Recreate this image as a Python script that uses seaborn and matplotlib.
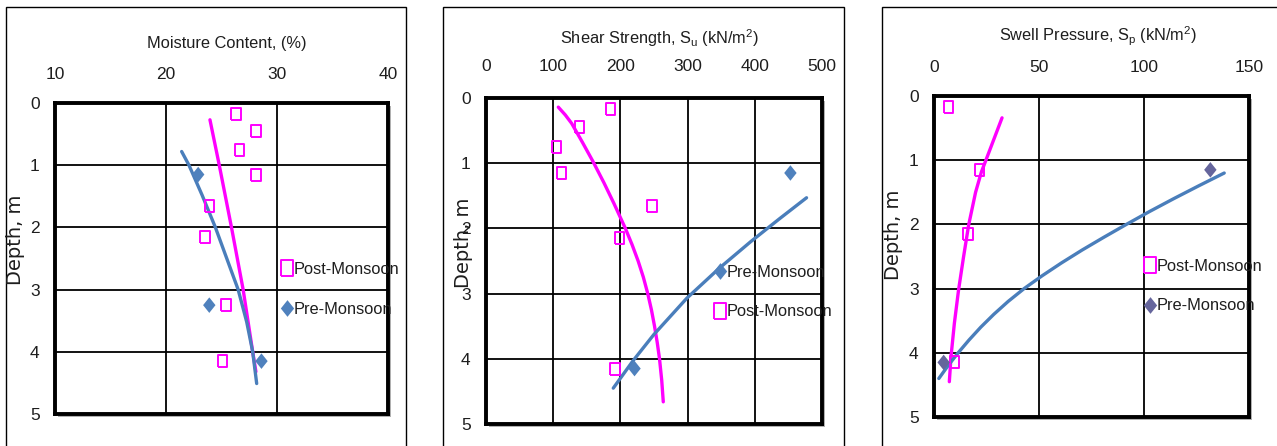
import matplotlib
matplotlib.use("Agg")
import matplotlib.pyplot as plt
from matplotlib.patches import Rectangle
from matplotlib.lines import Line2D
import seaborn as sns

# ---------------- data ----------------
# Moisture content (%) vs depth (m)
mc_post_depth = [0.17, 0.45, 0.75, 1.15, 1.65, 2.15, 3.25, 4.15]
mc_post = [26.3, 28.1, 26.6, 28.1, 23.9, 23.5, 25.4, 25.1]
mc_pre_depth = [1.15, 3.25, 4.15]
mc_pre = [22.9, 23.9, 28.6]
# trend lines (value, depth)
mc_post_trend = [23.96, 24.8, 25.9, 26.95, 27.81, 28.1]
mc_post_trend_depth = [0.27, 1.0, 2.0, 3.0, 4.0, 4.32]
mc_pre_trend = [21.41, 22.07, 23.25, 24.45, 26.5, 27.27, 27.81, 28.17]
mc_pre_trend_depth = [0.78, 1.0, 1.48, 2.0, 3.0, 3.52, 4.0, 4.51]

# Shear strength Su (kN/m2) vs depth (m)
su_post_depth = [0.17, 0.45, 0.75, 1.15, 1.65, 2.15, 4.15]
su_post = [185, 139, 105, 112, 247, 199, 192]
su_pre_depth = [1.15, 4.15]
su_pre = [453, 221]
su_post_trend = [107.6, 118.0, 127.5, 143.5, 159.0, 175.5, 190.5, 207.4, 217.4,
                 226.4, 234.2, 240.7, 246.2, 250.8, 254.8, 258.2, 261.5, 263.8]
su_post_trend_depth = [0.14, 0.26, 0.39, 0.68, 0.97, 1.30, 1.62, 2.00, 2.25,
                       2.50, 2.75, 3.00, 3.25, 3.50, 3.75, 4.00, 4.33, 4.66]
su_pre_trend = [477.0, 437.0, 394.3, 347.2, 298.9, 249.6, 218.8, 189.4]
su_pre_trend_depth = [1.53, 1.85, 2.2, 2.61, 3.07, 3.63, 4.03, 4.45]

# Swell pressure Sp (kN/m2) vs depth (m)
sp_post_depth = [0.17, 1.15, 2.15, 4.15]
sp_post = [7.0, 21.7, 16.2, 9.8]
sp_pre_depth = [1.15, 4.15]
sp_pre = [131.6, 4.6]
sp_post_trend = [32.4, 24.6, 22.6, 19.8, 16.5, 14.1, 11.7, 9.7, 8.1, 7.3]
sp_post_trend_depth = [0.34, 1.01, 1.18, 1.5, 2.01, 2.5, 3.02, 3.54, 4.06, 4.45]
sp_pre_trend = [138.2, 126.0, 114.1, 102.6, 91.6, 80.9, 70.5, 60.7, 51.5, 42.9,
                35.3, 28.5, 22.3, 16.7, 11.5, 6.7, 2.3]
sp_pre_trend_depth = [1.2, 1.4, 1.6, 1.8, 2.0, 2.2, 2.4, 2.6, 2.8, 3.0,
                      3.2, 3.4, 3.6, 3.8, 4.0, 4.2, 4.4]

depth_ticks = [0, 1, 2, 3, 4, 5]
mc_ticks = [10, 20, 30, 40]
su_ticks = [0, 100, 200, 300, 400, 500]
sp_ticks = [0, 50, 100, 150]

titles = ["Moisture Content, (%)",
          r"Shear Strength, S$_\mathregular{u}$ (kN/m$^\mathregular{2}$)",
          r"Swell Pressure, S$_\mathregular{p}$ (kN/m$^\mathregular{2}$)"]
label_post = "Post-Monsoon"
label_pre = "Pre-Monsoon"

# ---------------- style ----------------
sns.set_theme(style="white")
plt.rcParams["font.family"] = ["Liberation Sans", "DejaVu Sans"]
plt.rcParams["mathtext.default"] = "regular"

MAGENTA = "#FF00FF"
BLUE_LINE = "#4A7EBB"
BLUE_PT = "#4F81BD"
SLATE_PT = "#65659C"
TEXT = "#1E1E1E"
FS_TICK = 12.5
FS_TXT = 11.8

W, H = 1277, 446
fig = plt.figure(figsize=(W / 100, H / 100), dpi=100)
fig.patch.set_facecolor("white")

SQUARE = [(-0.78, -1), (0.78, -1), (0.78, 1), (-0.78, 1), (-0.78, -1)]
DIAMOND = [(0, 1), (0.8, 0), (0, -1), (-0.8, 0), (0, 1)]


def px_axes(l, r, t, b):
    return [l / W, 1 - b / H, (r - l) / W, (b - t) / H]


panels = [
    dict(box=(55, 388, 103, 414), frame=(6, 406), xlim=(10, 40), xt=mc_ticks,
         post=(mc_post, mc_post_depth), pre=(mc_pre, mc_pre_depth),
         tpost=(mc_post_trend, mc_post_trend_depth), tpre=(mc_pre_trend, mc_pre_trend_depth),
         title=(227, 48), ylab=(-0.090, 0.559), xpad=15, ypad=11,
         leg=(281, 289.5), order="post", pre_color=BLUE_PT),
    dict(box=(486, 822, 98, 424), frame=(443, 844), xlim=(0, 500), xt=su_ticks,
         post=(su_post, su_post_depth), pre=(su_pre, su_pre_depth),
         tpost=(su_post_trend, su_post_trend_depth), tpre=(su_pre_trend, su_pre_trend_depth),
         title=(659, 44), ylab=(-0.039, 0.555), xpad=17, ypad=11,
         leg=(714, 292), order="pre", pre_color=BLUE_PT),
    dict(box=(934, 1249, 96, 417), frame=(882, 1290), xlim=(0, 150), xt=sp_ticks,
         post=(sp_post, sp_post_depth), pre=(sp_pre, sp_pre_depth),
         tpost=(sp_post_trend, sp_post_trend_depth), tpre=(sp_pre_trend, sp_pre_trend_depth),
         title=(1098, 41), ylab=(-0.098, 0.567), xpad=15, ypad=11,
         leg=(1144, 286), order="post", pre_color=SLATE_PT),
]

for i, p in enumerate(panels):
    l, r, t, b = p["box"]

    # outer chart border (open at the bottom edge)
    fl, fr = p["frame"]
    fig.patches.append(Rectangle((fl / W, -0.1), (fr - fl) / W, 1.1 - 7 / H,
                                 transform=fig.transFigure, fill=False,
                                 edgecolor="black", lw=1.0, zorder=-2))
    # drop shadow behind the plot area
    fig.patches.append(Rectangle(((l + 3) / W, 1 - (b + 3) / H), (r - l) / W, (b - t) / H,
                                 transform=fig.transFigure, facecolor="#B0B0B0",
                                 edgecolor="none", zorder=-1))

    ax = fig.add_axes(px_axes(l, r, t, b))
    ax.set_facecolor("white")

    # trend lines
    sns.lineplot(x=p["tpost"][0], y=p["tpost"][1], sort=False, estimator=None,
                 color=MAGENTA, lw=2.4, ax=ax, zorder=3)
    sns.lineplot(x=p["tpre"][0], y=p["tpre"][1], sort=False, estimator=None,
                 color=BLUE_LINE, lw=2.4, ax=ax, zorder=3)

    # measured points
    sns.scatterplot(x=p["post"][0], y=p["post"][1], marker=SQUARE, s=74,
                    color=MAGENTA, facecolor="none", edgecolor=MAGENTA,
                    linewidth=1.4, ax=ax, zorder=4)
    sns.scatterplot(x=p["pre"][0], y=p["pre"][1], marker=DIAMOND, s=125,
                    color=p["pre_color"], edgecolor="none", linewidth=0,
                    ax=ax, zorder=4)

    ax.set_xlim(*p["xlim"])
    ax.set_ylim(5, 0)
    ax.set_xticks(p["xt"])
    ax.set_yticks(depth_ticks)
    ax.xaxis.tick_top()
    ax.tick_params(axis="both", length=0, labelsize=FS_TICK, colors=TEXT)
    ax.tick_params(axis="x", pad=p["xpad"])
    ax.tick_params(axis="y", pad=p["ypad"])
    ax.set_xlabel("")

    ax.grid(True, color="black", lw=1.3)
    ax.set_axisbelow(True)
    for sp in ax.spines.values():
        sp.set_visible(True)
        sp.set_color("black")
        sp.set_linewidth(2.8)

    ax.set_ylabel("Depth, m", fontfamily="DejaVu Sans", fontsize=14, color=TEXT)
    ax.yaxis.set_label_coords(*p["ylab"])

    fig.text(p["title"][0] / W, 1 - p["title"][1] / H, titles[i], ha="center",
             va="baseline", fontsize=FS_TXT, color=TEXT)

    h_post = Line2D([], [], ls="none", marker=SQUARE, markersize=11,
                    markerfacecolor="none", markeredgecolor=MAGENTA, markeredgewidth=1.4)
    h_pre = Line2D([], [], ls="none", marker=DIAMOND, markersize=12,
                   markerfacecolor=p["pre_color"], markeredgecolor="none")
    if p["order"] == "post":
        hs, ls = [h_post, h_pre], [label_post, label_pre]
    else:
        hs, ls = [h_pre, h_post], [label_pre, label_post]
    lx, ly = p["leg"]
    ax.legend(hs, ls, loc="center left", bbox_to_anchor=(lx / W, 1 - ly / H),
              bbox_transform=fig.transFigure, frameon=False, fontsize=FS_TXT,
              handlelength=0.7, handletextpad=0.1, borderpad=0, borderaxespad=0,
              labelspacing=1.5, labelcolor=TEXT)

fig.savefig("out.png", dpi=100, facecolor="white")
